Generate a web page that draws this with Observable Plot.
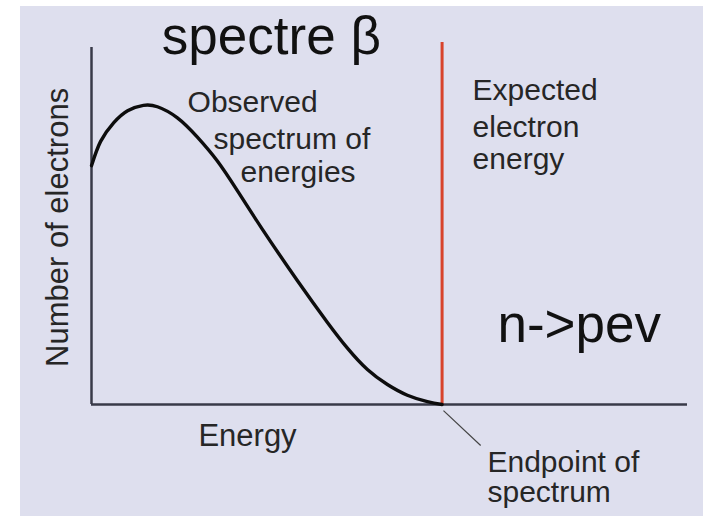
<!DOCTYPE html>
<html>
<head>
<meta charset="utf-8">
<script src="https://cdn.jsdelivr.net/npm/d3@7"></script>
<script src="https://cdn.jsdelivr.net/npm/@observablehq/plot@0.6"></script>
<style>
  html, body { margin: 0; padding: 0; background: #ffffff; }
  #panel { position: absolute; left: 20px; top: 6px; width: 683px; height: 510px; background: #dedfee; }
  #chart { position: absolute; left: 0; top: 0; }
</style>
</head>
<body>
<div id="panel"></div>
<div id="chart"></div>
<script>
// Beta-decay electron energy spectrum (arbitrary units, endpoint energy = 1)
const energy = [0, 0.026, 0.063, 0.103, 0.148, 0.188, 0.245, 0.302, 0.359, 0.416, 0.488, 0.588, 0.673, 0.730, 0.787, 0.844, 0.901, 0.958, 1.0];
const electrons = [0.669, 0.737, 0.789, 0.823, 0.838, 0.834, 0.803, 0.749, 0.682, 0.599, 0.490, 0.346, 0.230, 0.158, 0.098, 0.056, 0.026, 0.008, 0.0];
const endpoint = 1.0;

const titleText = "spectre β";
const reactionText = "n->pev";
const xLabel = "Energy";
const yLabel = "Number of electrons";
const observedLines = ["Observed", "spectrum of", "energies"];
const expectedLines = ["Expected", "electron", "energy"];
const endpointLines = ["Endpoint of", "spectrum"];

const spectrum = energy.map((e, i) => ({energy: e, electrons: electrons[i]}));

const font = "'Liberation Sans', Arial, Helvetica, sans-serif";
const labelColor = "#262626";
const labelSize = 30;

const chart = Plot.plot({
  width: 703,
  height: 516,
  marginLeft: 91,
  marginRight: 16,
  marginTop: 47,
  marginBottom: 112,
  style: {background: "transparent", fontFamily: font, overflow: "visible"},
  x: {domain: [0, 1.7], axis: null},
  y: {domain: [0, 1], axis: null},
  marks: [
    // axes drawn as plain lines, no ticks
    Plot.ruleX([0], {y1: 0, y2: 1, stroke: "#383a48", strokeWidth: 2.5}),
    Plot.ruleY([0], {x1: 0, x2: 1.7, stroke: "#383a48", strokeWidth: 2.5}),
    // expected (endpoint) electron energy
    Plot.ruleX([endpoint], {y1: 0, y2: 1.014, stroke: "#d8432b", strokeWidth: 3}),
    // observed continuous spectrum
    Plot.line(spectrum, {x: "energy", y: "electrons", curve: "natural", stroke: "#0d0d0d", strokeWidth: 3.4}),
    // pointer to the endpoint
    Plot.link([{x1: 1.004, y1: -0.017, x2: 1.11, y2: -0.115}], {x1: "x1", y1: "y1", x2: "x2", y2: "y2", stroke: "#444", strokeWidth: 1.2}),
    // title and reaction
    Plot.text([titleText], {x: 0.513, y: 0.983, text: d => d, fontSize: 53, fill: "#111", lineAnchor: "bottom", textAnchor: "middle"}),
    Plot.text([reactionText], {x: 1.158, y: 0.174, text: d => d, fontSize: 53, fill: "#111", lineAnchor: "bottom", textAnchor: "start"}),
    // axis titles
    Plot.text([xLabel], {x: 0.445, y: -0.115, text: d => d, fontSize: 31, fill: labelColor, lineAnchor: "bottom", textAnchor: "middle"}),
    Plot.text([yLabel], {x: -0.066, y: 0.496, text: d => d, fontSize: 31, fill: labelColor, lineAnchor: "bottom", textAnchor: "middle", rotate: -90}),
    // annotations
    Plot.text(observedLines, {
      x: [0.274, 0.348, 0.425], y: [0.818, 0.717, 0.622], text: d => d,
      fontSize: labelSize, fill: labelColor, lineAnchor: "bottom", textAnchor: "start"
    }),
    Plot.text(expectedLines, {
      x: [1.087, 1.087, 1.087], y: [0.852, 0.750, 0.661], text: d => d,
      fontSize: labelSize, fill: labelColor, lineAnchor: "bottom", textAnchor: "start"
    }),
    Plot.text(endpointLines, {
      x: [1.1295, 1.1295], y: [-0.19, -0.274], text: d => d,
      fontSize: labelSize, fill: labelColor, lineAnchor: "bottom", textAnchor: "start"
    })
  ]
});

document.getElementById("chart").appendChild(chart);
</script>
</body>
</html>
